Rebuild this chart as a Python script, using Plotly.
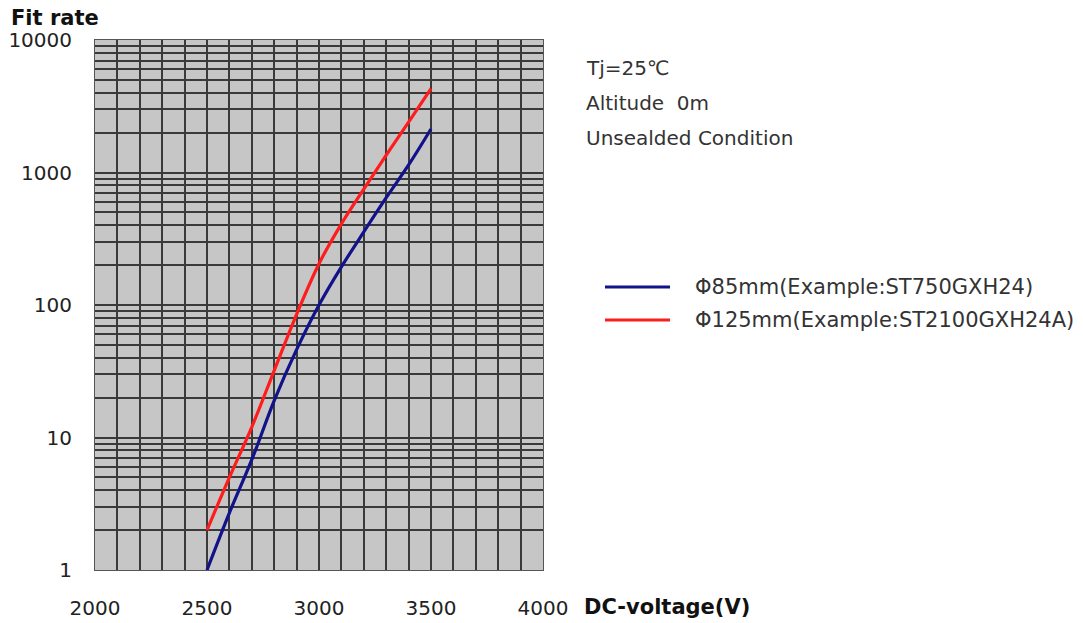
import plotly.graph_objects as go

voltage = [2500, 2600, 2700, 2800, 2900, 3000, 3100, 3200, 3300, 3400, 3500]
fit_85 = [1, 2.7, 6.8, 19, 46, 100, 194, 356, 645, 1140, 2130]
fit_125 = [2, 5, 12, 32, 85, 205, 410, 750, 1350, 2400, 4300]
series_names = ["Φ85mm(Example:ST750GXH24)", "Φ125mm(Example:ST2100GXH24A)"]
series_colors = ["#12128a", "#ff1c1c"]
x_ticks = [2000, 2500, 3000, 3500, 4000]
y_decades = [1, 10, 100, 1000, 10000]
notes = ["Tj=25℃", "Altitude  0m", "Unsealded Condition"]

W, H = 1083, 623
L, R, T, B = 95, 543, 40, 570

def px(xp):
    return (xp - L) / (R - L)

def py(yp):
    return (B - yp) / (B - T)

y_vals, y_text = [], []
for d in y_decades[:-1]:
    for m in range(1, 10):
        y_vals.append(d * m)
        y_text.append(str(d) if m == 1 else "")
y_vals.append(y_decades[-1])
y_text.append(str(y_decades[-1]))

fig = go.Figure()
for ys, name, col in zip([fit_85, fit_125], series_names, series_colors):
    fig.add_trace(go.Scatter(x=voltage, y=ys, mode="lines", name=name,
                             line=dict(color=col, width=3.2, shape="spline", smoothing=1.0)))

fig.update_layout(
    width=W, height=H,
    margin=dict(l=L, r=W - R, t=T, b=H - B, autoexpand=False),
    paper_bgcolor="white", plot_bgcolor="#c6c6c6",
    showlegend=False,
    font=dict(family="DejaVu Sans", size=20, color="#222"),
)
fig.update_xaxes(range=[2000, 4000], tickvals=x_ticks, ticktext=[str(v) for v in x_ticks],
                 showgrid=True, gridcolor="#3a3a3a", gridwidth=1.6, automargin=False,
                 minor=dict(dtick=100, showgrid=True, gridcolor="#3a3a3a", gridwidth=1.6),
                 ticks="outside", ticklen=20, tickcolor="rgba(0,0,0,0)",
                 showline=True, linecolor="#555", linewidth=1, mirror=True, zeroline=False,
                 tickfont=dict(family="DejaVu Sans", size=20, color="#222"))
fig.update_yaxes(type="log", range=[0, 4], tickvals=y_vals, ticktext=y_text,
                 showgrid=True, gridcolor="#3a3a3a", gridwidth=1.6, automargin=False,
                 ticks="outside", ticklen=18, tickcolor="rgba(0,0,0,0)",
                 showline=True, linecolor="#555", linewidth=1, mirror=True,
                 tickfont=dict(family="DejaVu Sans", size=20, color="#222"))

fig.add_annotation(xref="paper", yref="paper", x=px(9), y=py(18), xanchor="left", yanchor="middle",
                   text="<b>Fit rate</b>", showarrow=False,
                   font=dict(family="DejaVu Sans", size=21, color="#111"))
fig.add_annotation(xref="paper", yref="paper", x=px(582), y=py(607), xanchor="left", yanchor="middle",
                   text="<b>DC-voltage(V)</b>", showarrow=False,
                   font=dict(family="DejaVu Sans", size=21, color="#111"))

for i, t in enumerate(notes):
    fig.add_annotation(xref="paper", yref="paper", x=px(584), y=py(68 + 35 * i), xanchor="left",
                       yanchor="middle", text=t, showarrow=False,
                       font=dict(family="DejaVu Sans", size=20, color="#333"))

for i, (name, col) in enumerate(zip(series_names, series_colors)):
    yy = 287 + 33 * i
    fig.add_shape(type="line", xref="paper", yref="paper", x0=px(605), x1=px(670),
                  y0=py(yy), y1=py(yy), line=dict(color=col, width=3))
    fig.add_annotation(xref="paper", yref="paper", x=px(693), y=py(yy), xanchor="left",
                       yanchor="middle", text=name, showarrow=False,
                       font=dict(family="DejaVu Sans", size=21, color="#333"))

fig.write_html("out.html", config={"displayModeBar": False},
               post_script="document.body.style.margin='0';document.body.style.overflow='hidden';")
